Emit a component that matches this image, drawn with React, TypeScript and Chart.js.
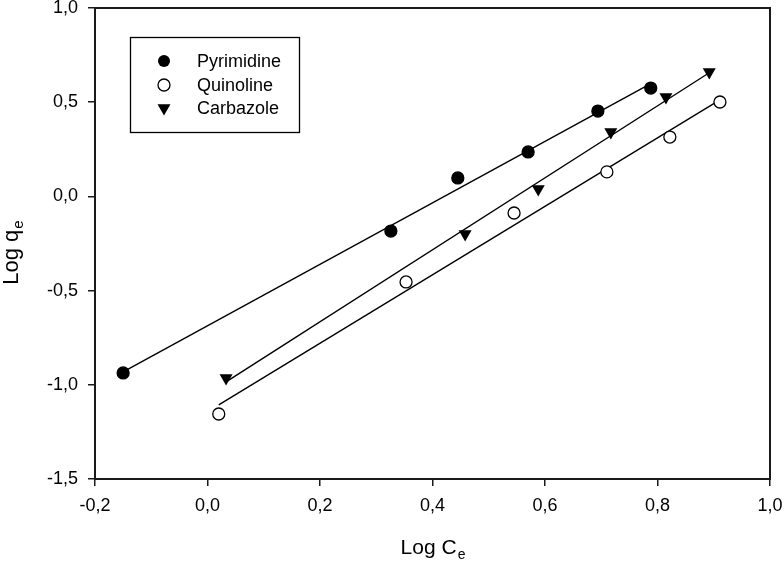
import React, { useEffect, useRef } from "react";
import { Chart, registerables } from "chart.js";

Chart.register(...registerables);

// Pyrimidine
const pyrX = [-0.15, 0.326, 0.445, 0.57, 0.694, 0.788];
const pyrY = [-0.937, -0.184, 0.098, 0.236, 0.453, 0.575];
// Quinoline
const quiX = [0.02, 0.353, 0.545, 0.71, 0.822, 0.911];
const quiY = [-1.155, -0.454, -0.088, 0.13, 0.315, 0.501];
// Carbazole
const carX = [0.033, 0.458, 0.588, 0.717, 0.815, 0.892];
const carY = [-0.964, -0.2, 0.039, 0.342, 0.528, 0.66];

const seriesNames = ["Pyrimidine", "Quinoline", "Carbazole"];
const xTitle = ["Log C", "e"];
const yTitle = ["Log q", "e"];

const FONT = "'Liberation Sans', Arial, Helvetica, sans-serif";

function pts(xs: number[], ys: number[]) {
  return xs.map((x, i) => ({ x, y: ys[i] }));
}

function fitLine(xs: number[], ys: number[]) {
  const n = xs.length;
  const mx = xs.reduce((a, b) => a + b, 0) / n;
  const my = ys.reduce((a, b) => a + b, 0) / n;
  let sxy = 0;
  let sxx = 0;
  for (let i = 0; i < n; i++) {
    sxy += (xs[i] - mx) * (ys[i] - my);
    sxx += (xs[i] - mx) * (xs[i] - mx);
  }
  const b = sxy / sxx;
  const a = my - b * mx;
  const x0 = Math.min(...xs);
  const x1 = Math.max(...xs);
  return [
    { x: x0, y: a + b * x0 },
    { x: x1, y: a + b * x1 },
  ];
}

function fmt(v: number) {
  const n = Math.abs(v) < 1e-9 ? 0 : v;
  return n.toFixed(1).replace(".", ",");
}

const decorPlugin = {
  id: "decor",
  afterDraw(chart: any) {
    const ctx = chart.ctx as CanvasRenderingContext2D;
    const ca = chart.chartArea;
    ctx.save();
    // frame
    ctx.strokeStyle = "#1a1a1a";
    ctx.lineWidth = 2;
    ctx.strokeRect(ca.left, ca.top, ca.right - ca.left, ca.bottom - ca.top);

    // legend
    ctx.lineWidth = 1.3;
    ctx.strokeStyle = "#000";
    ctx.strokeRect(130.5, 37.5, 169, 95);
    const rows = [61, 85, 108];
    const mx = 164;
    ctx.fillStyle = "#000";
    ctx.beginPath();
    ctx.arc(mx, rows[0], 6, 0, Math.PI * 2);
    ctx.fill();
    ctx.beginPath();
    ctx.arc(mx, rows[1], 6, 0, Math.PI * 2);
    ctx.fillStyle = "#fff";
    ctx.fill();
    ctx.stroke();
    ctx.fillStyle = "#000";
    const r = 7.5;
    ctx.beginPath();
    ctx.moveTo(mx, rows[2] + r);
    ctx.lineTo(mx - r * 0.866, rows[2] - r / 2);
    ctx.lineTo(mx + r * 0.866, rows[2] - r / 2);
    ctx.closePath();
    ctx.fill();

    ctx.font = `18px ${FONT}`;
    ctx.textBaseline = "middle";
    ctx.textAlign = "left";
    seriesNames.forEach((s, i) => ctx.fillText(s, 197, rows[i] + 1));

    // x title with subscript
    ctx.textBaseline = "alphabetic";
    ctx.font = `21px ${FONT}`;
    const w1 = ctx.measureText(xTitle[0]).width;
    ctx.font = `14px ${FONT}`;
    const w2 = ctx.measureText(xTitle[1]).width;
    const cx = (ca.left + ca.right) / 2;
    const sx = cx - (w1 + w2) / 2;
    ctx.font = `21px ${FONT}`;
    ctx.fillText(xTitle[0], sx, 554);
    ctx.font = `14px ${FONT}`;
    ctx.fillText(xTitle[1], sx + w1 + 1, 559);

    // y title rotated
    ctx.save();
    ctx.translate(18, 253);
    ctx.rotate(-Math.PI / 2);
    ctx.font = `22px ${FONT}`;
    const v1 = ctx.measureText(yTitle[0]).width;
    ctx.font = `15px ${FONT}`;
    const v2 = ctx.measureText(yTitle[1]).width;
    const s0 = -(v1 + v2) / 2;
    ctx.font = `22px ${FONT}`;
    ctx.fillText(yTitle[0], s0, 0);
    ctx.font = `15px ${FONT}`;
    ctx.fillText(yTitle[1], s0 + v1 + 1, 5);
    ctx.restore();

    ctx.restore();
  },
};

export default function App() {
  const ref = useRef<HTMLCanvasElement>(null);

  useEffect(() => {
    if (!ref.current) return;
    const scatterBase = {
      type: "scatter" as const,
      showLine: false,
      pointBorderColor: "#000",
      pointBorderWidth: 1.3,
    };
    const lineBase = {
      type: "line" as const,
      showLine: true,
      borderColor: "#000",
      borderWidth: 1.4,
      pointRadius: 0,
      fill: false,
      tension: 0,
    };
    const zeroPad = (s: any) => {
      s.paddingTop = 0;
      s.paddingBottom = 0;
      s.paddingLeft = 0;
      s.paddingRight = 0;
    };
    const chart = new Chart(ref.current, {
      type: "scatter",
      data: {
        datasets: [
          {
            ...scatterBase,
            label: seriesNames[0],
            data: pts(pyrX, pyrY),
            pointStyle: "circle",
            pointRadius: 6,
            pointBackgroundColor: "#000",
          },
          {
            ...scatterBase,
            label: seriesNames[1],
            data: pts(quiX, quiY),
            pointStyle: "circle",
            pointRadius: 6,
            pointBackgroundColor: "#fff",
          },
          {
            ...scatterBase,
            label: seriesNames[2],
            data: pts(carX, carY),
            pointStyle: "triangle",
            rotation: 180,
            pointRotation: 180,
            pointRadius: 7.5,
            pointBackgroundColor: "#000",
            pointBorderWidth: 0,
          },
          { ...lineBase, label: "fit1", data: fitLine(pyrX, pyrY) },
          { ...lineBase, label: "fit2", data: fitLine(quiX, quiY) },
          { ...lineBase, label: "fit3", data: fitLine(carX, carY) },
        ] as any,
      },
      options: {
        animation: false,
        responsive: false,
        events: [],
        layout: { padding: { top: 8, right: 14, left: 0, bottom: 0 } },
        plugins: {
          legend: { display: false },
          tooltip: { enabled: false },
        },
        scales: {
          x: {
            type: "linear",
            min: -0.2,
            max: 1.0,
            afterFit: (s: any) => {
              s.height = 85;
              zeroPad(s);
            },
            ticks: {
              stepSize: 0.2,
              color: "#000",
              padding: 9,
              font: { family: FONT, size: 18 },
              callback: (v: any) => fmt(Number(v)),
            },
            grid: {
              display: true,
              drawOnChartArea: false,
              drawTicks: true,
              tickLength: 7,
              color: "#1a1a1a",
              lineWidth: 1.5,
            },
            border: { display: true, color: "#1a1a1a", width: 2 },
          },
          y: {
            type: "linear",
            min: -1.5,
            max: 1.0,
            afterFit: (s: any) => {
              s.width = 95;
              zeroPad(s);
            },
            ticks: {
              stepSize: 0.5,
              color: "#000",
              padding: 10,
              font: { family: FONT, size: 18 },
              callback: (v: any) => fmt(Number(v)),
            },
            grid: {
              display: true,
              drawOnChartArea: false,
              drawTicks: true,
              tickLength: 7,
              color: "#1a1a1a",
              lineWidth: 1.5,
            },
            border: { display: true, color: "#1a1a1a", width: 2 },
          },
        },
      },
      plugins: [decorPlugin],
    } as any);
    return () => chart.destroy();
  }, []);

  return (
    <div style={{ position: "absolute", left: 0, top: 0, width: 784, height: 564, background: "#fff" }}>
      <canvas ref={ref} width={784} height={564} style={{ display: "block" }} />
    </div>
  );
}
